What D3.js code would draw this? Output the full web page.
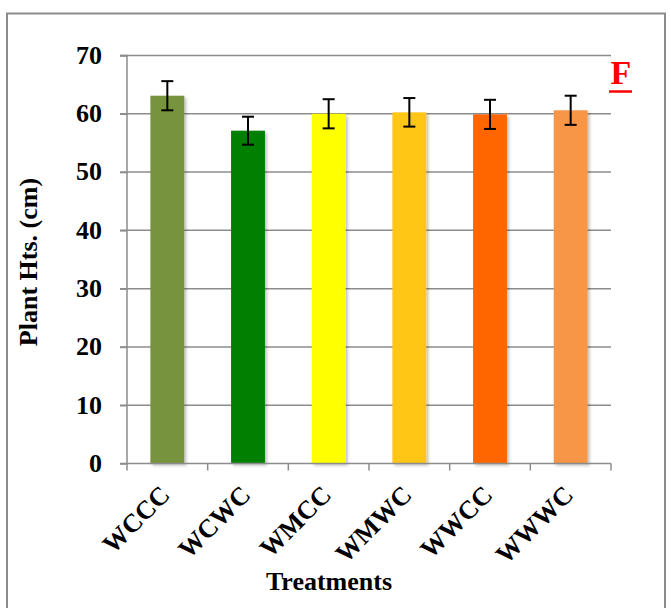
<!DOCTYPE html>
<html><head><meta charset="utf-8">
<script src="https://cdn.jsdelivr.net/npm/d3@7"></script>
<style>body{margin:0;background:#fff}svg{display:block}</style>
</head><body>
<script>
const categories = ["WCCC","WCWC","WMCC","WMWC","WWCC","WWWC"];
const values = [63.1, 57.1, 60.0, 60.25, 59.9, 60.6];
const errors = [2.5, 2.4, 2.5, 2.45, 2.5, 2.5];
const colors = ["#77933C","#007F00","#FFFF00","#FFC619","#FF6600","#F79646"];
const yTicks = [0,10,20,30,40,50,60,70];

const W=671,H=608;
const svg=d3.select("body").append("svg").attr("width",W).attr("height",H);
const defs=svg.append("defs");
const f=defs.append("filter").attr("id","sh").attr("x","-20%").attr("y","-20%").attr("width","150%").attr("height","150%");
f.append("feDropShadow").attr("dx",2).attr("dy",2).attr("stdDeviation",1.5).attr("flood-color","#000").attr("flood-opacity",0.25);

svg.append("rect").attr("x",7).attr("y",13.5).attr("width",658).attr("height",610).attr("fill","#fff").attr("stroke","#8c8c8c").attr("stroke-width",2);

const x0=127,x1=611,yTop=55.5,yBot=463.5;
const x=d3.scaleBand().domain(categories).range([x0,x1]).paddingInner(0.58).paddingOuter(0.29);
const y=d3.scaleLinear().domain([0,70]).range([yBot,yTop]);
const font="'Liberation Serif','Times New Roman',serif";

// gridlines
svg.append("g").selectAll("line").data(yTicks.filter(d=>d>0)).join("line")
 .attr("x1",x0-7).attr("x2",x1).attr("y1",d=>y(d)).attr("y2",d=>y(d))
 .attr("stroke","#8c8c8c").attr("stroke-width",1.5);

// y axis
const ya=svg.append("g").attr("transform",`translate(${x0},0)`)
 .call(d3.axisLeft(y).tickValues(yTicks).tickSize(7).tickPadding(18));
ya.select(".domain").attr("stroke","#8c8c8c").attr("stroke-width",1.5).attr("d",`M-7,${yTop}H0V${yBot}H-7`);
ya.selectAll(".tick line").attr("stroke","#8c8c8c").attr("stroke-width",1.5);
ya.selectAll("text").attr("font-family",font).attr("font-weight","bold").attr("font-size",26).attr("fill","#000").attr("dy","0.3em");

// bars
svg.append("g").selectAll("rect").data(categories).join("rect")
 .attr("x",d=>x(d)).attr("width",x.bandwidth())
 .attr("y",(d,i)=>y(values[i])).attr("height",(d,i)=>y(0)-y(values[i]))
 .attr("fill",(d,i)=>colors[i]).attr("filter","url(#sh)");

// x axis
const bounds=d3.range(categories.length+1).map(i=>x0+i*(x1-x0)/categories.length);
svg.append("line").attr("x1",x0).attr("x2",x1).attr("y1",yBot).attr("y2",yBot).attr("stroke","#8c8c8c").attr("stroke-width",1.5);
svg.append("g").selectAll("line").data(bounds).join("line")
 .attr("x1",d=>d).attr("x2",d=>d).attr("y1",yBot).attr("y2",yBot+7).attr("stroke","#8c8c8c").attr("stroke-width",1.5);

// error bars
const eb=svg.append("g").attr("stroke","#000").attr("stroke-width",2);
categories.forEach((c,i)=>{
  const cx=x(c)+x.bandwidth()/2;
  eb.append("line").attr("x1",cx).attr("x2",cx).attr("y1",y(values[i]+errors[i])).attr("y2",y(values[i]-errors[i]));
  [values[i]+errors[i],values[i]-errors[i]].forEach(v=>{
    eb.append("line").attr("x1",cx-6).attr("x2",cx+6).attr("y1",y(v)).attr("y2",y(v));
  });
});

// x labels
svg.append("g").selectAll("text").data(categories).join("text")
 .attr("transform",d=>`translate(${x(d)+x.bandwidth()/2+4},${yBot+33}) rotate(-45)`)
 .attr("text-anchor","end")
 .attr("font-family",font).attr("font-weight","bold").attr("font-size",26).text(d=>d);

// titles
svg.append("text").attr("x",329).attr("y",590).attr("text-anchor","middle")
 .attr("font-family",font).attr("font-weight","bold").attr("font-size",26).text("Treatments");
svg.append("text").attr("transform",`translate(37,262) rotate(-90)`).attr("text-anchor","middle")
 .attr("font-family",font).attr("font-weight","bold").attr("font-size",26).text("Plant Hts. (cm)");

svg.append("text").attr("x",621).attr("y",83.5).attr("text-anchor","middle")
 .attr("font-family",font).attr("font-weight","bold").attr("font-size",34).attr("fill","#FF0000").text("F");
svg.append("line").attr("x1",609).attr("x2",632).attr("y1",91.5).attr("y2",91.5).attr("stroke","#FF0000").attr("stroke-width",2.5);
</script>
</body></html>
